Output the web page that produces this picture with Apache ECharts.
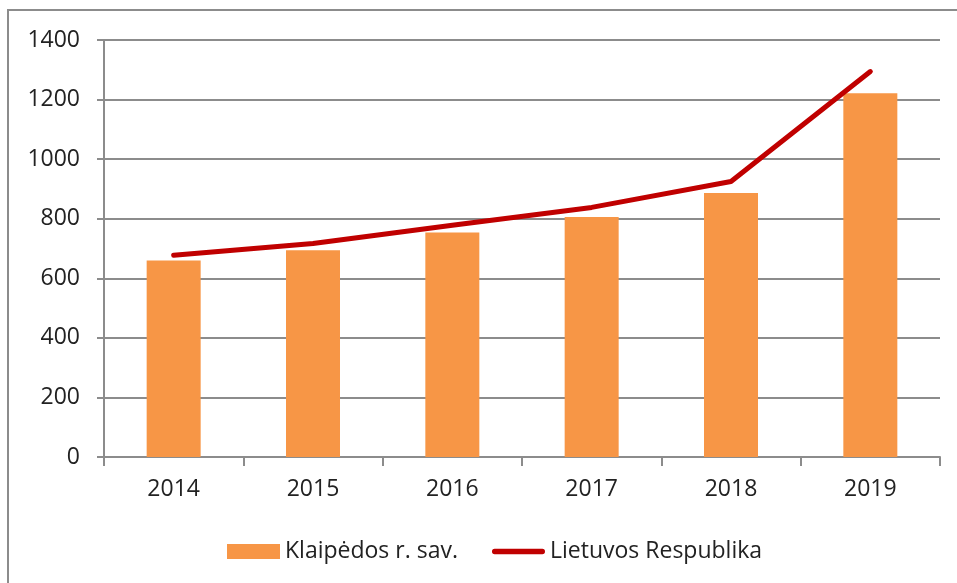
<!DOCTYPE html>
<html>
<head>
<meta charset="utf-8">
<script src="https://cdn.jsdelivr.net/npm/echarts@6/dist/echarts.min.js"></script>
<style>
    html, body { margin: 0; padding: 0; background: #fff; }
    #chart { width: 957px; height: 583px; }
</style>
</head>
<body>
<div id="chart"></div>
<script>
// metai
const years = ['2014', '2015', '2016', '2017', '2018', '2019']
// Klaipėdos r. sav. (stulpeliai)
const klaipedos = [660, 694, 754, 806, 886, 1221]
// Lietuvos Respublika (linija)
const lietuvos = [677, 717, 778, 838, 925, 1294]
const seriesNames = ['Klaipėdos r. sav.', 'Lietuvos Respublika']

const chart = echarts.init(document.getElementById('chart'))
const font = 'Open Sans'
const gray = '#8c8c8c'
const red = '#C00000'

const option = {
    animation: false,
    backgroundColor: '#fff',
    textStyle: { fontFamily: font },
    graphic: [{
        type: 'rect',
        shape: { x: 8, y: 10, width: 960, height: 600 },
        style: { fill: 'none', stroke: gray, lineWidth: 2 },
        silent: true
    }],
    grid: { left: 104, right: 17, top: 40, bottom: 126 },
    legend: {
        left: 222,
        top: 535,
        itemWidth: 53,
        itemHeight: 15,
        itemGap: 34,
        textStyle: { fontSize: 23, color: '#222', fontFamily: font },
        data: [
            { name: seriesNames[0], icon: 'rect' },
            {
                name: seriesNames[1],
                icon: 'path://M1,0 L19,0 A1,1 0 0 1 19,2 L1,2 A1,1 0 0 1 1,0 Z',
                itemStyle: { color: red }
            }
        ]
    },
    xAxis: {
        type: 'category',
        data: years,
        boundaryGap: true,
        axisLine: { lineStyle: { color: gray, width: 2 } },
        axisTick: { show: true, length: 9, lineStyle: { color: gray, width: 2 } },
        axisLabel: { fontSize: 23, color: '#222', margin: 21 }
    },
    yAxis: {
        type: 'value',
        min: 0,
        max: 1400,
        interval: 200,
        axisLine: { show: true, lineStyle: { color: gray, width: 2 } },
        axisTick: { show: true, length: 7, lineStyle: { color: gray, width: 2 } },
        axisLabel: { fontSize: 23, color: '#222', margin: 24, formatter: v => String(v) },
        splitLine: { lineStyle: { color: gray, width: 2 } }
    },
    series: [
        {
            name: seriesNames[0],
            type: 'bar',
            data: klaipedos,
            barWidth: 54,
            itemStyle: { color: '#F79646' }
        },
        {
            name: seriesNames[1],
            type: 'line',
            data: lietuvos,
            symbol: 'none',
            smooth: false,
            lineStyle: { color: red, width: 5, cap: 'round', join: 'round' },
            itemStyle: { color: red }
        }
    ]
}
chart.setOption(option)
</script>
</body>
</html>
